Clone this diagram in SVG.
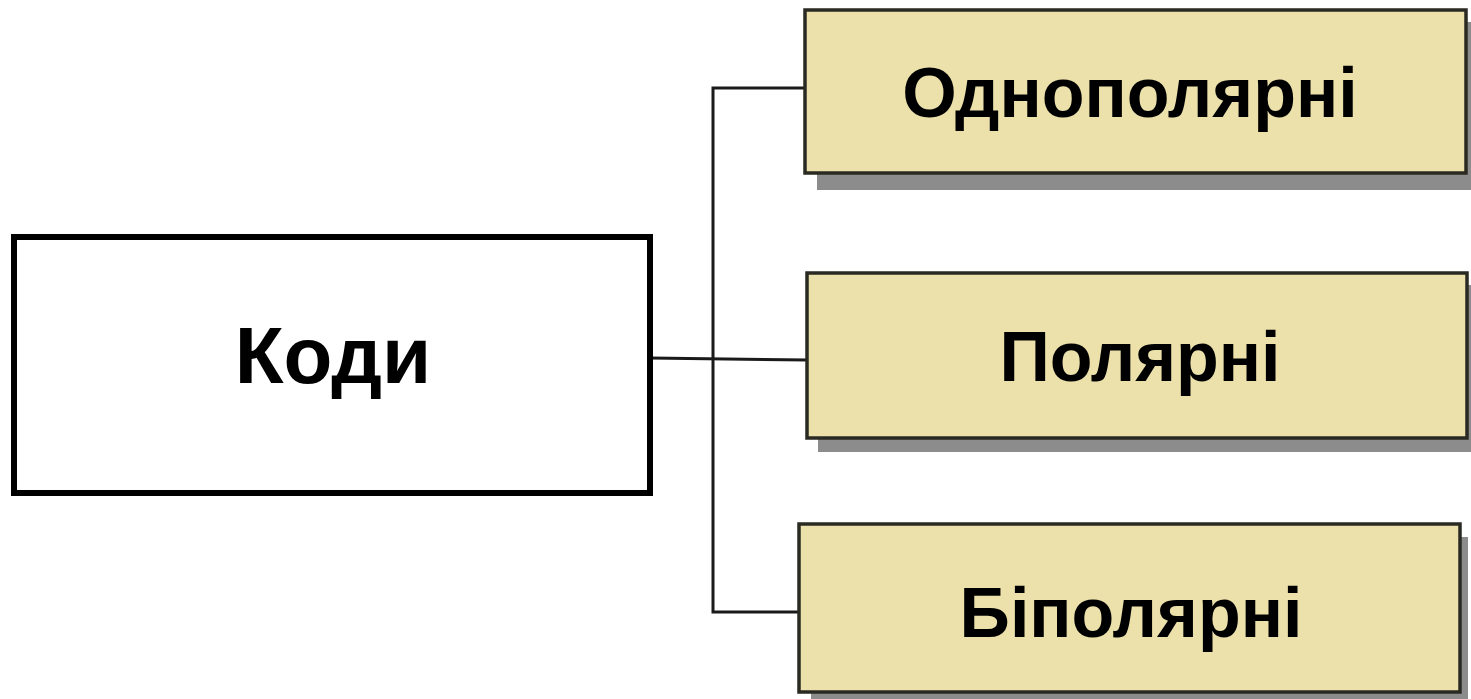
<svg xmlns="http://www.w3.org/2000/svg" width="1471" height="699" viewBox="0 0 1471 699">
<style>
.lbl{font-family:"Liberation Sans",Arial,sans-serif;font-weight:bold;font-size:70px;fill:#000;text-anchor:middle}
.big{font-size:80px}
.box{fill:#ece1aa;stroke:#2a2a22;stroke-width:3.5}
.shadow{fill:#8c8c8c}
.conn{fill:none;stroke:#1a1a1a;stroke-width:3}
</style>
<rect width="1471" height="699" fill="#fff"/>
<g id="connectors">
<polyline class="conn" points="805,88 713,88 713,612 799,612"/>
<polyline class="conn" points="650,358 807,360"/>
</g>
<g id="node-kody">
<rect x="14" y="237" width="636" height="256" fill="#fff" stroke="#000" stroke-width="6"/>
<text class="lbl big" x="333" y="383">Коди</text>
</g>
<g id="node-odnopolyarni">
<rect class="shadow" x="817" y="22" width="654" height="168"/>
<rect class="box" x="805" y="10" width="661" height="163"/>
<text class="lbl" x="1130" y="117">Однополярні</text>
</g>
<g id="node-polyarni">
<rect class="shadow" x="818" y="285" width="653" height="167"/>
<rect class="box" x="807" y="273" width="660" height="165"/>
<text class="lbl" x="1140" y="381">Полярні</text>
</g>
<g id="node-bipolyarni">
<rect class="shadow" x="811" y="537" width="657" height="162"/>
<rect class="box" x="799" y="524" width="661" height="168"/>
<text class="lbl" x="1131" y="637">Біполярні</text>
</g>
</svg>
